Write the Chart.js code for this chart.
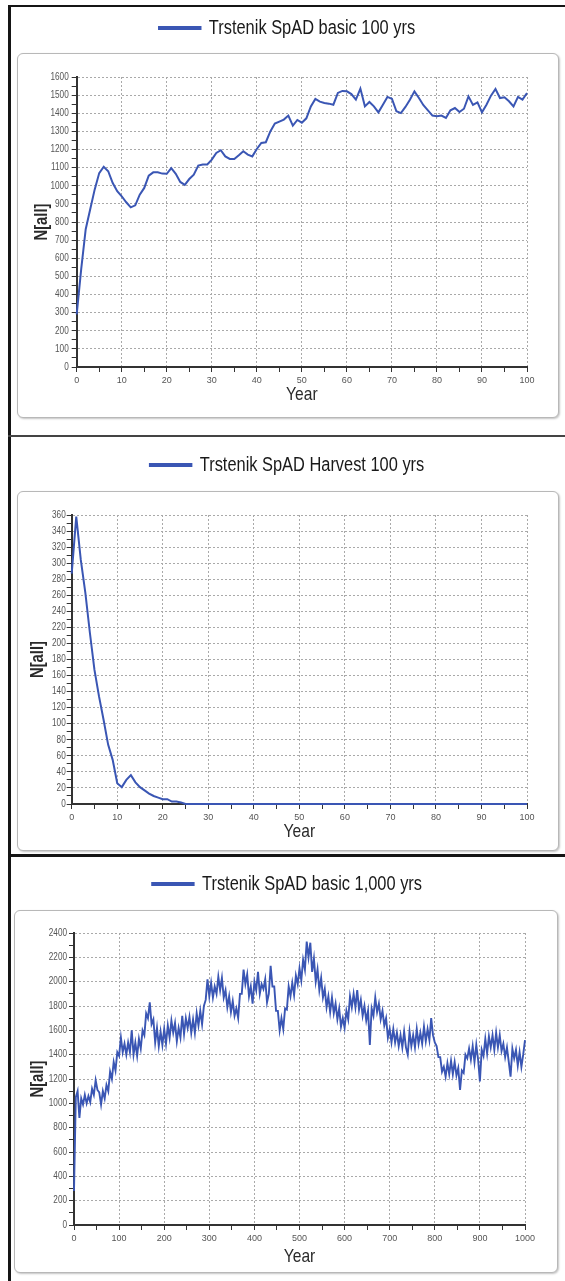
<!DOCTYPE html>
<html>
<head>
<meta charset="utf-8">
<script src="https://cdn.jsdelivr.net/npm/chart.js@4"></script>
<style>
  body { margin: 0; width: 565px; height: 1281px; background: #fff; position: relative; overflow: hidden; }
  .rule { position: absolute; background: #151515; }
  .box { position: absolute; border: 1px solid #b8b8b8; border-radius: 6px; box-shadow: 1px 1px 2px #c4c4c4; background: #fff; }
  canvas { position: absolute; left: 0; }
</style>
</head>
<body>
<div class="rule" style="left:8px;top:5px;width:3px;height:1276px"></div>
<div class="rule" style="left:8px;top:5px;width:557px;height:2px"></div>
<div class="rule" style="left:8px;top:435px;width:557px;height:2px;background:#444"></div>
<div class="rule" style="left:8px;top:854px;width:557px;height:3px"></div>

<div class="box" style="left:17px;top:53px;width:540px;height:363px"></div>
<div class="box" style="left:17px;top:491px;width:540px;height:358px"></div>
<div class="box" style="left:14px;top:910px;width:542px;height:361px"></div>

<canvas id="basic100" width="565" height="429" style="top:6px"></canvas>
<canvas id="harvest100" width="565" height="417" style="top:437px"></canvas>
<canvas id="basic1000" width="565" height="424" style="top:857px"></canvas>

<script>
// years 0..100
const years100 = Array.from({ length: 101 }, (_, i) => i);

const basic100 = [
  290, 540, 760, 870, 980, 1070, 1105, 1080, 1015, 970,
  942, 909, 881, 892, 951, 988, 1056, 1074, 1074, 1067,
  1066, 1097, 1066, 1021, 1005, 1037, 1061, 1111, 1117, 1117,
  1144, 1181, 1196, 1162, 1148, 1148, 1168, 1190, 1172, 1162,
  1203, 1236, 1240, 1300, 1343, 1354, 1365, 1387, 1332, 1363,
  1348, 1372, 1438, 1479, 1464, 1457, 1453, 1447, 1512, 1523,
  1521, 1506, 1475, 1536, 1438, 1462, 1438, 1405, 1447, 1490,
  1480, 1411, 1401, 1435, 1475, 1521, 1484, 1444, 1416, 1387,
  1383, 1387, 1374, 1416, 1429, 1407, 1425, 1493, 1446, 1460,
  1405, 1447, 1497, 1534, 1484, 1488, 1466, 1438, 1490, 1475,
  1512
];

const harvest100 = [
  287, 358, 304, 263, 213, 167, 134, 105, 74, 55,
  26, 21, 30, 36, 27, 21, 17, 13, 10, 8,
  6, 6, 3, 3, 2, 0, 0, 0, 0, 0,
  0, 0, 0, 0, 0, 0, 0, 0, 0, 0,
  0, 0, 0, 0, 0, 0, 0, 0, 0, 0,
  0, 0, 0, 0, 0, 0, 0, 0, 0, 0,
  0, 0, 0, 0, 0, 0, 0, 0, 0, 0,
  0, 0, 0, 0, 0, 0, 0, 0, 0, 0,
  0, 0, 0, 0, 0, 0, 0, 0, 0, 0,
  0, 0, 0, 0, 0, 0, 0, 0, 0, 0,
  0
];

// 1,000 year run, one reading every 4 years
const basic1000 = [
  280, 1050, 1100, 880, 1040, 990, 1070, 1000, 1060, 1010,
  1120, 1070, 1190, 1110, 1090, 990, 1100, 1040, 1150, 1100,
  1260, 1200, 1340, 1270, 1420, 1390, 1540, 1420, 1490, 1400,
  1500, 1420, 1600, 1400, 1500, 1390, 1530, 1450, 1600, 1560,
  1740, 1700, 1830, 1650, 1690, 1500, 1620, 1470, 1590, 1480,
  1610, 1490, 1640, 1540, 1680, 1580, 1660, 1510, 1620, 1540,
  1720, 1570, 1700, 1620, 1710, 1580, 1690, 1580, 1740, 1640,
  1760, 1650, 1800, 1850, 2020, 1880, 1990, 1870, 1960, 1900,
  2040, 1930, 2030, 1870, 1930, 1790, 1880, 1750, 1840, 1720,
  1780, 1700, 1900, 1900, 2100, 1980, 2060, 1880, 1960, 1820,
  2000, 1930, 2080, 1900, 1980, 1940, 2020, 1830, 1900, 2130,
  1960, 1960, 1760, 1760, 1600, 1700, 1610, 1780, 1770, 1960,
  1880, 1990, 1890, 2050, 1980, 2110, 2010, 2180, 2100, 2330,
  2200, 2320, 2080, 2190, 2000, 2100, 1930, 2030, 1870, 1940,
  1790, 1880, 1750, 1870, 1740, 1820, 1690, 1780, 1630, 1700,
  1620, 1760, 1690, 1880, 1790, 1900, 1790, 1930, 1770, 1850,
  1720, 1800, 1680, 1760, 1480, 1780, 1720, 1870, 1750, 1820,
  1690, 1760, 1640, 1700, 1540, 1610, 1500, 1610, 1500, 1580,
  1470, 1560, 1460, 1590, 1460, 1400, 1590, 1470, 1560, 1460,
  1610, 1490, 1580, 1490, 1630, 1510, 1610, 1520, 1700, 1560,
  1500, 1470, 1380, 1380, 1260, 1300, 1220, 1330, 1240, 1350,
  1240, 1340, 1230, 1290, 1110, 1270, 1250, 1400, 1370, 1450,
  1360, 1470, 1340, 1480, 1360, 1180, 1440, 1390, 1530, 1410,
  1550, 1460, 1560, 1440, 1580, 1460, 1560, 1430, 1490, 1380,
  1460, 1340, 1220, 1450, 1370, 1440, 1310, 1420, 1300, 1400,
  1520
];
const years1000 = basic1000.map((_, i) => i * 4);

const blue = '#3a56b4';
const gridGrey = '#a9a9a9';
const axisCol = '#333';
const tickGrey = '#555';
const sans = "'Liberation Sans', Arial, sans-serif";
const squeeze = 0.82; // the original uses a narrow face

// pushes the plot area down below the legend
const legendGap = {
  id: 'legendGap',
  beforeInit(chart, args, opts) {
    const fit = chart.legend.fit;
    chart.legend.fit = function () {
      fit.call(this);
      this.height += opts.extra || 0;
    };
  }
};

// draws legend, axis titles and y labels horizontally condensed
const narrowText = {
  id: 'narrowText',
  afterLayout(chart) {
    const lg = chart.legend;
    if (lg && !lg._narrow) {
      lg._narrow = true;
      const draw = lg.draw;
      lg.draw = function () {
        const ctx = this.ctx, cx = (this.left + this.right) / 2;
        ctx.save();
        ctx.translate(cx, 0); ctx.scale(squeeze, 1); ctx.translate(-cx, 0);
        draw.apply(this, arguments);
        ctx.restore();
      };
    }
    Object.values(chart.scales).forEach(s => {
      if (s._narrow) return;
      s._narrow = true;
      const drawTitle = s.drawTitle;
      s.drawTitle = function () {
        const ctx = this.ctx;
        ctx.save();
        if (this.isHorizontal()) {
          const cx = (this.left + this.right) / 2;
          ctx.translate(cx, 0); ctx.scale(squeeze, 1); ctx.translate(-cx, 0);
        } else {
          const cy = (this.top + this.bottom) / 2;
          ctx.translate(0, cy); ctx.scale(1, squeeze); ctx.translate(0, -cy);
        }
        drawTitle.apply(this, arguments);
        ctx.restore();
      };
      if (!s.isHorizontal()) {
        const drawLabels = s.drawLabels;
        s.drawLabels = function () {
          const ctx = this.ctx;
          const ax = this.right - this.options.grid.tickLength - this.options.ticks.padding;
          ctx.save();
          ctx.translate(ax, 0); ctx.scale(squeeze, 1); ctx.translate(-ax, 0);
          drawLabels.apply(this, arguments);
          ctx.restore();
        };
      }
    });
  }
};

function makeChart(id, p) {
  return new Chart(document.getElementById(id), {
    type: 'line',
    data: {
      datasets: [{
        label: p.label,
        data: p.xs.map((x, i) => ({ x: x, y: p.ys[i] })),
        borderColor: blue,
        backgroundColor: blue,
        borderWidth: p.lineWidth,
        pointRadius: 0,
        tension: 0,
        fill: false,
        clip: false
      }]
    },
    plugins: [legendGap, narrowText],
    options: {
      responsive: false,
      animation: false,
      layout: { padding: { left: 9, right: 0, top: p.top, bottom: 0 } },
      plugins: {
        legendGap: { extra: p.gap },
        tooltip: { enabled: false },
        legend: {
          position: 'top',
          labels: {
            boxWidth: 51, boxHeight: 2, padding: 10,
            color: '#1a1a1a',
            font: { family: sans, size: 20 }
          }
        }
      },
      scales: {
        x: {
          type: 'linear', min: 0, max: p.xMax,
          ticks: {
            stepSize: p.xStep / 2, autoSkip: false, maxRotation: 0, padding: 3,
            color: tickGrey, font: { family: sans, size: 9 },
            callback: v => v % p.xStep === 0 ? v : ''
          },
          grid: {
            color: c => c.tick && c.tick.value % p.xStep === 0 ? gridGrey : 'rgba(0,0,0,0)',
            tickColor: axisCol, tickLength: 5
          },
          border: { color: axisCol, width: 2, dash: [2, 2] },
          title: {
            display: true, text: 'Year', color: '#2a2a2a',
            font: { family: sans, size: 19 },
            padding: { top: 0, bottom: p.yearPad }
          },
          afterFit(s) { s.height = p.xHeight; s.paddingRight = p.right; }
        },
        y: {
          type: 'linear', min: 0, max: p.yMax,
          ticks: {
            stepSize: p.yStep / 2, autoSkip: false, padding: p.yTickPad,
            color: tickGrey, font: { family: sans, size: 10 },
            callback: v => v % p.yStep === 0 ? v : ''
          },
          grid: {
            color: c => c.tick && c.tick.value % p.yStep === 0 ? gridGrey : 'rgba(0,0,0,0)',
            tickColor: axisCol, tickLength: 5
          },
          border: { color: axisCol, width: 2, dash: [2, 2] },
          title: {
            display: true, text: 'N[all]', color: '#2a2a2a',
            font: { family: sans, size: 18, weight: 'bold' },
            padding: { top: p.nPad, bottom: 0 }
          },
          afterFit(s) { s.width = p.yWidth; }
        }
      }
    }
  });
}

makeChart('basic100', {
  label: 'Trstenik SpAD basic 100 yrs', xs: years100, ys: basic100, lineWidth: 2,
  xMax: 100, xStep: 10, yMax: 1600, yStep: 100,
  top: 2, gap: 29, xHeight: 68, yearPad: 28.6, right: 38, yWidth: 67.7, nPad: 22.2, yTickPad: 3
});

makeChart('harvest100', {
  label: 'Trstenik SpAD Harvest 100 yrs', xs: years100, ys: harvest100, lineWidth: 2,
  xMax: 100, xStep: 10, yMax: 360, yStep: 20,
  top: 8, gap: 30, xHeight: 50, yearPad: 10.6, right: 38, yWidth: 62.7, nPad: 18.2, yTickPad: 1
});

makeChart('basic1000', {
  label: 'Trstenik SpAD basic 1,000 yrs', xs: years1000, ys: basic1000, lineWidth: 1.9,
  xMax: 1000, xStep: 100, yMax: 2400, yStep: 200,
  top: 7, gap: 29, xHeight: 56, yearPad: 12.6, right: 40, yWidth: 65, nPad: 18.2, yTickPad: 2
});
</script>
</body>
</html>
